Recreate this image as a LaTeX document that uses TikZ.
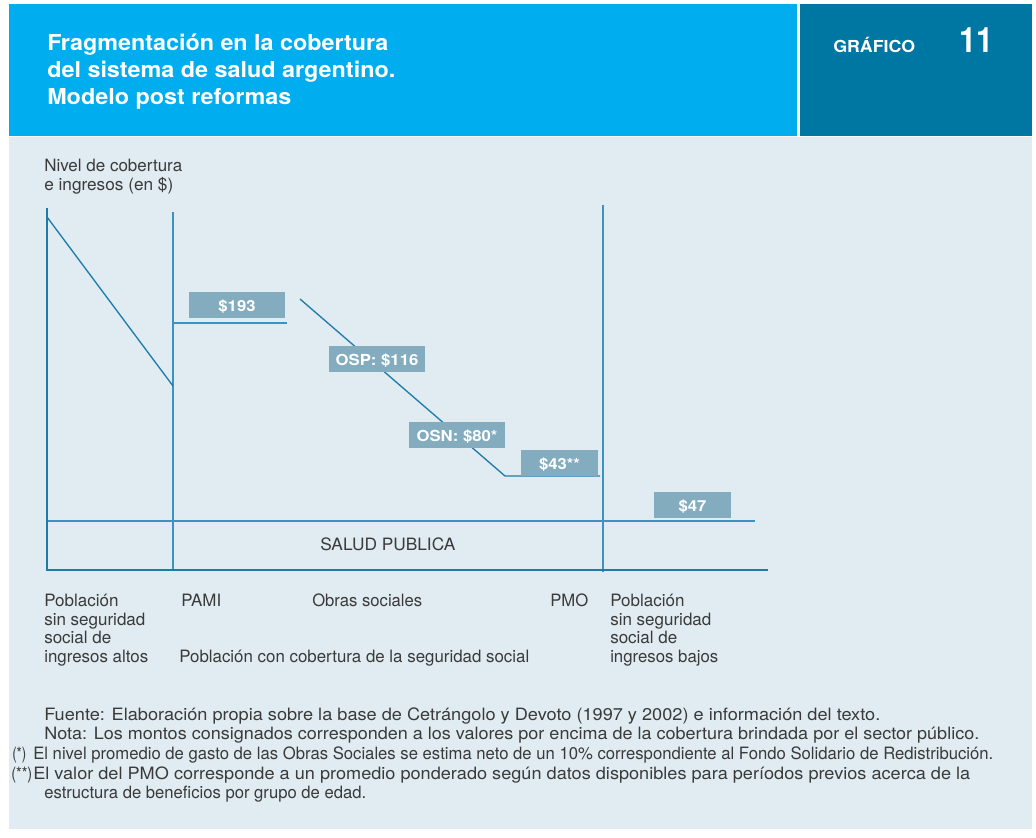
\documentclass[tikz,border=0pt]{standalone}
\usepackage{fontspec}
\setmainfont{TeX Gyre Heros}
\usepackage{graphicx}
\newlength\px \setlength\px{0.75pt}
\newcommand\fitw[2]{\resizebox{#1\px}{\height}{#2}}
\newcommand\wide[1]{\scalebox{1.1}[1]{#1}}
\definecolor{hdrlight}{HTML}{00AEEF}
\definecolor{hdrdark}{HTML}{0077A3}
\definecolor{panel}{HTML}{E0ECF1}
\definecolor{linec}{HTML}{1E7BAA}
\definecolor{thinc}{HTML}{3C93C2}
\definecolor{boxc}{HTML}{83ACBF}
\definecolor{txt}{HTML}{3A3A3A}
\tikzset{
  txtnode/.style={inner sep=0pt, anchor=base west, text=txt, font=\fontsize{12.75}{14}\selectfont},
  titlenode/.style={inner sep=0pt, anchor=base west, text=white, font=\bfseries\fontsize{16.5}{18}\selectfont},
  lbl/.style={fill=boxc, text=white, inner sep=0pt, text height=13\px, text depth=0pt, minimum height=26\px, font=\bfseries\fontsize{11.4}{13}\selectfont},
  axis/.style={linec, line width=2.2pt},
  thin/.style={thinc, line width=1.1pt},
  diag/.style={linec, line width=1pt},
}
\begin{document}
\begin{tikzpicture}[x=0.75pt,y=-0.75pt]
\useasboundingbox (0,0) rectangle (1036,838);
\fill[white] (0,0) rectangle (1036,838);
\fill[panel] (9,137) rectangle (1032,829);
\fill[hdrlight] (9,4) rectangle (797,136);
\fill[hdrdark] (800,4) rectangle (1032,136);
% header
\node[titlenode] (t1) at (47,51) {\fitw{341}{Fragmentación en la cobertura}};
\node[titlenode] (t2) at (47,78) {\fitw{348}{del sistema de salud argentino.}};
\node[titlenode] (t3) at (47,104.5) {\fitw{244}{Modelo post reformas}};
\node[inner sep=0pt, anchor=base west, text=white, font=\bfseries\fontsize{12.4}{14}\selectfont] (graf) at (833,53) {\fitw{82}{GRÁFICO}};
\node[inner sep=0pt, anchor=base west, text=white, font=\bfseries\fontsize{26.25}{28}\selectfont] (num) at (959,53) {\fitw{34}{11}};
% y label
\node[txtnode] (yl1) at (44,172) {\fitw{138}{Nivel de cobertura}};
\node[txtnode] (yl2) at (44,191) {\fitw{129}{e ingresos (en \$)}};
% coordinates
\coordinate (ytop) at (47,208);
\coordinate (orig) at (47,570);
\coordinate (xend) at (768,570);
\coordinate (d1a) at (47,217);
\coordinate (d1b) at (173,386);
\coordinate (v1top) at (173,212);
\coordinate (v1bot) at (173,570);
\coordinate (h193a) at (173,323);
\coordinate (h193b) at (287,323);
\coordinate (d2a) at (300,299);
\coordinate (d2b) at (505,476);
\coordinate (h43b) at (600,476);
\coordinate (v2top) at (603,205);
\coordinate (v2bot) at (603,572);
\coordinate (spa) at (47,521);
\coordinate (spb) at (755,521);
% lines
\draw[thin] (v1top) -- (v1bot);
\draw[thin] (v2top) -- (v2bot);
\draw[thin] (spa) -- (spb);
\draw[diag] (d1a) -- (d1b);
\draw[thin] (h193a) -- (h193b);
\draw[diag] (d2a) -- (d2b) -- (h43b);
\draw[axis] (ytop) -- (orig) -- (xend);
% label boxes
\node[lbl, minimum width=96\px] (b193) at (237,305) {\wide{\$193}};
\node[lbl, minimum width=96\px] (bosp) at (377,359) {\wide{OSP: \$116}};
\node[lbl, minimum width=96\px] (bosn) at (457,435) {\wide{OSN: \$80*}};
\node[lbl, minimum width=77\px] (b43) at (559.5,463) {\wide{\$43**}};
\node[lbl, minimum width=77\px] (b47) at (692.5,505) {\wide{\$47}};
% salud publica
\node[txtnode] (sp) at (320,550) {\fitw{135}{SALUD PUBLICA}};
% bottom labels
\node[txtnode] (l1a) at (44,606) {Población};
\node[txtnode] (l1b) at (44,625) {sin seguridad};
\node[txtnode] (l1c) at (44,643) {social de};
\node[txtnode] (l1d) at (44,662) {\fitw{104}{ingresos altos}};
\node[txtnode] (pami) at (181,606) {\fitw{40}{PAMI}};
\node[txtnode] (obras) at (312,606) {\fitw{110}{Obras sociales}};
\node[txtnode] (pmo) at (550,606) {\fitw{38}{PMO}};
\node[txtnode] (r1a) at (610,606) {Población};
\node[txtnode] (r1b) at (610,625) {sin seguridad};
\node[txtnode] (r1c) at (610,643) {social de};
\node[txtnode] (r1d) at (610,662) {\fitw{108}{ingresos bajos}};
\node[txtnode] (pcs) at (179,662) {\fitw{350}{Población con cobertura de la seguridad social}};
% footer
\node[txtnode] (f1) at (44,720) {\fitw{836}{Fuente: Elaboración propia sobre la base de Cetrángolo y Devoto (1997 y 2002) e información del texto.}};
\node[txtnode] (f2) at (44,739.5) {\fitw{935}{Nota: Los montos consignados corresponden a los valores por encima de la cobertura brindada por el sector público.}};
\node[txtnode] (f3m) at (12,759) {\fitw{14}{(*)}};
\node[txtnode] (f3) at (33,759) {\fitw{960}{El nivel promedio de gasto de las Obras Sociales se estima neto de un 10\% correspondiente al Fondo Solidario de Redistribución.}};
\node[txtnode] (f4m) at (11,779) {\fitw{21}{(**)}};
\node[txtnode] (f4) at (33,779) {\fitw{937}{El valor del PMO corresponde a un promedio ponderado según datos disponibles para períodos previos acerca de la}};
\node[txtnode] (f5) at (44,798.5) {\fitw{322}{estructura de beneficios por grupo de edad.}};
\end{tikzpicture}
\end{document}
